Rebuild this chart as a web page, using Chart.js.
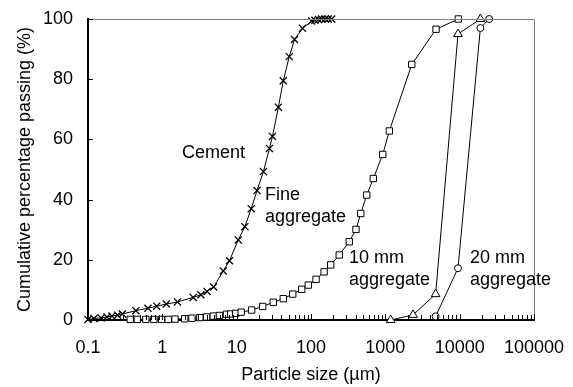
<!DOCTYPE html>
<html>
<head>
<meta charset="utf-8">
<title>Particle size distribution</title>
<script src="https://cdn.jsdelivr.net/npm/chart.js@4/dist/chart.umd.min.js"></script>
<style>
  html, body { margin: 0; padding: 0; background: #fff; }
  #wrap { width: 573px; height: 387px; }
</style>
</head>
<body>
<div id="wrap"><canvas id="psdChart"></canvas></div>
<script>
// grading curves: particle size (µm) vs cumulative % passing
const cementSize = [0.1, 0.12, 0.15, 0.18, 0.21, 0.25, 0.29, 0.44, 0.64, 0.84, 1.13, 1.6, 2.6, 3.3, 4.0, 4.9, 6.6, 8.0, 10.5, 12.9, 15.7, 18.8, 22.9, 27.6, 30.3, 36.4, 42.4, 51, 60, 77, 102, 113, 126, 139, 155, 170, 190];
const cementPass = [0.2, 0.5, 0.7, 1.0, 1.3, 1.6, 2.0, 3.1, 3.9, 4.6, 5.3, 6.0, 7.5, 8.4, 9.5, 11, 16.3, 19.7, 26.6, 31, 37, 43, 49.3, 57, 61, 70.7, 79.5, 87.5, 93.2, 96.9, 99.3, 99.6, 99.8, 100, 100, 100, 100];

const fineSize = [0.37, 0.46, 0.6, 0.77, 0.98, 1.2, 1.48, 2.0, 2.5, 3.2, 3.95, 4.85, 5.85, 7.3, 8.3, 9.7, 11.5, 15.9, 22.4, 31.1, 42.4, 56.8, 75, 92, 117, 150, 184, 240, 327, 403, 467, 562, 689, 922, 1132, 2266, 4808, 9590];
const finePass = [0.2, 0.2, 0.2, 0.2, 0.2, 0.2, 0.3, 0.4, 0.6, 0.8, 1.0, 1.3, 1.5, 1.9, 2.0, 2.2, 2.6, 3.3, 4.5, 5.9, 7.1, 8.6, 10.2, 11.6, 13.5, 16, 18.3, 21.6, 26, 30.1, 35.4, 41.5, 47, 55, 62.8, 84.9, 96.6, 100];

const agg10Size = [1180, 2360, 4750, 9500, 19000];
const agg10Pass = [0, 1.7, 8.6, 95, 100];

const agg20Size = [4750, 9500, 19000, 25000];
const agg20Pass = [1.2, 17.2, 97, 100];

const xTickLabels = ["0.1", "1", "10", "100", "1000", "10000", "100000"];
const yTickStep = 20;

// curve labels, anchored in data units (left edge, first line centre)
const curveNotes = [
  { lines: ["Cement"], x: 1.84, y: 55.5 },
  { lines: ["Fine", "aggregate"], x: 24, y: 41.5 },
  { lines: ["10 mm", "aggregate"], x: 324, y: 20.6 },
  { lines: ["20 mm", "aggregate"], x: 13770, y: 20.6 }
];

const FONT = "Liberation Sans, Arial, sans-serif";

function toXY(xs, ys) {
  return xs.map((x, i) => ({ x: x, y: ys[i] }));
}

// every 1..9 multiple inside the decades, majors are the powers of ten
const xMajor = xTickLabels.map(Number);
const xAllTicks = [];
xMajor.forEach((d, i) => {
  xAllTicks.push(d);
  if (i < xMajor.length - 1) {
    for (let m = 2; m <= 9; m++) xAllTicks.push(d * m);
  }
});

function isMajor(v) {
  const l = Math.log10(v);
  return Math.abs(l - Math.round(l)) < 1e-6;
}

const frameAndTicks = {
  id: "frameAndTicks",
  afterDatasetsDraw(chart) {
    const { ctx, chartArea: a, scales } = chart;
    ctx.save();
    // thin grey top and right edges of the plot box
    ctx.strokeStyle = "#808080";
    ctx.lineWidth = 1;
    ctx.beginPath();
    ctx.moveTo(a.left, a.top + 0.5);
    ctx.lineTo(a.right + 0.5, a.top + 0.5);
    ctx.lineTo(a.right + 0.5, a.bottom);
    ctx.stroke();

    // inward tick marks
    ctx.strokeStyle = "#000";
    ctx.beginPath();
    scales.x.ticks.forEach(t => {
      const px = Math.round(scales.x.getPixelForValue(t.value)) + 0.5;
      const len = isMajor(t.value) ? 6 : 5;
      ctx.moveTo(px, a.bottom);
      ctx.lineTo(px, a.bottom - len);
    });
    scales.y.ticks.forEach(t => {
      const py = Math.round(scales.y.getPixelForValue(t.value)) + 0.5;
      ctx.moveTo(a.left, py);
      ctx.lineTo(a.left + 5, py);
    });
    ctx.stroke();

    // curve labels
    ctx.fillStyle = "#000";
    ctx.font = "18px " + FONT;
    ctx.textAlign = "left";
    ctx.textBaseline = "middle";
    curveNotes.forEach(n => {
      const px = scales.x.getPixelForValue(n.x);
      const py = scales.y.getPixelForValue(n.y);
      n.lines.forEach((line, i) => ctx.fillText(line, px, py + i * 22));
    });
    ctx.restore();
  }
};

const lineStyle = {
  showLine: true,
  borderColor: "#000",
  borderWidth: 1,
  pointBorderColor: "#000",
  pointBackgroundColor: "#fff",
  pointBorderWidth: 1,
  clip: false
};

new Chart(document.getElementById("psdChart").getContext("2d"), {
  type: "scatter",
  data: {
    datasets: [
      Object.assign({}, lineStyle, {
        label: "Cement",
        data: toXY(cementSize, cementPass),
        pointStyle: "crossRot",
        pointRadius: 5,
        pointBorderWidth: 1.3
      }),
      Object.assign({}, lineStyle, {
        label: "Fine aggregate",
        data: toXY(fineSize, finePass),
        pointStyle: "rect",
        pointRadius: 4.5
      }),
      Object.assign({}, lineStyle, {
        label: "10 mm aggregate",
        data: toXY(agg10Size, agg10Pass),
        pointStyle: "triangle",
        pointRadius: 5
      }),
      Object.assign({}, lineStyle, {
        label: "20 mm aggregate",
        data: toXY(agg20Size, agg20Pass),
        pointStyle: "circle",
        pointRadius: 3.5
      })
    ]
  },
  options: {
    responsive: true,
    maintainAspectRatio: false,
    animation: false,
    layout: { padding: { top: 19, right: 39, left: 0, bottom: 0 } },
    plugins: {
      legend: { display: false },
      tooltip: { enabled: false }
    },
    scales: {
      x: {
        type: "logarithmic",
        min: 0.1,
        max: 100000,
        border: { color: "#000", width: 2 },
        grid: { display: false, drawTicks: false },
        afterBuildTicks: scale => {
          scale.ticks = xAllTicks.map(v => ({ value: v }));
        },
        afterFit: scale => {
          scale.height = 67;
          scale.paddingLeft = 0;
          scale.paddingRight = 0;
        },
        ticks: {
          autoSkip: false,
          maxRotation: 0,
          padding: 17,
          color: "#000",
          font: { family: FONT, size: 18 },
          callback: value => isMajor(value) ? xTickLabels[Math.round(Math.log10(value)) + 1] : ""
        },
        title: {
          display: true,
          text: "Particle size (µm)",
          color: "#000",
          font: { family: FONT, size: 18 },
          padding: { top: 0, bottom: 1 }
        }
      },
      y: {
        min: 0,
        max: 100,
        border: { color: "#000", width: 2 },
        grid: { display: false, drawTicks: false },
        afterFit: scale => {
          scale.width = 88;
          scale.paddingTop = 0;
          scale.paddingBottom = 0;
        },
        ticks: {
          stepSize: yTickStep,
          padding: 15,
          color: "#000",
          font: { family: FONT, size: 18 }
        },
        title: {
          display: true,
          text: "Cumulative percentage passing (%)",
          color: "#000",
          font: { family: FONT, size: 18 },
          padding: { top: 14, bottom: 0 }
        }
      }
    }
  },
  plugins: [frameAndTicks]
});
</script>
</body>
</html>
